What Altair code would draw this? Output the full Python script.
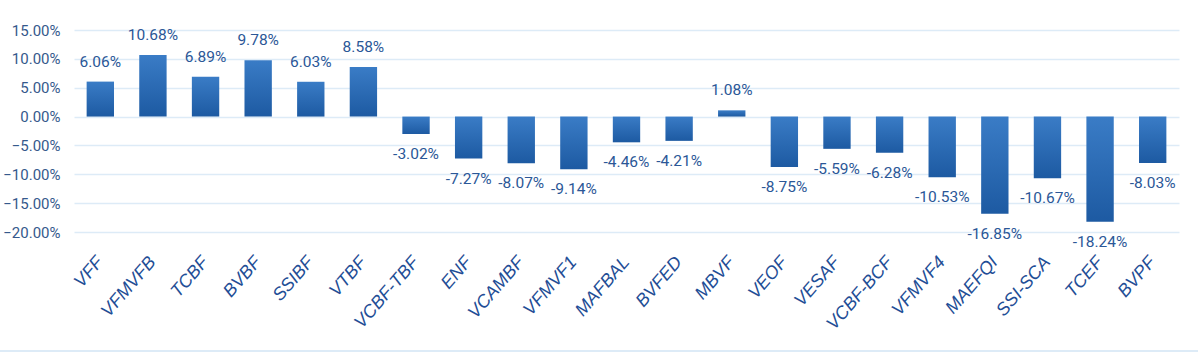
import altair as alt
import pandas as pd

funds = ["VFF", "VFMVFB", "TCBF", "BVBF", "SSIBF", "VTBF", "VCBF-TBF", "ENF", "VCAMBF",
         "VFMVF1", "MAFBAL", "BVFED", "MBVF", "VEOF", "VESAF", "VCBF-BCF", "VFMVF4",
         "MAEFQI", "SSI-SCA", "TCEF", "BVPF"]
returns = [6.06, 10.68, 6.89, 9.78, 6.03, 8.58, -3.02, -7.27, -8.07, -9.14, -4.46, -4.21,
           1.08, -8.75, -5.59, -6.28, -10.53, -16.85, -10.67, -18.24, -8.03]
y_ticks = [15, 10, 5, 0, -5, -10, -15, -20]

df = pd.DataFrame({"fund": funds, "ret": returns})
df["label"] = [f"{v:.2f}%" for v in returns]

W, H = 1105, 202

x = alt.X("fund:N", sort=funds, title=None,
          scale=alt.Scale(paddingInner=0.48, paddingOuter=0.24),
          axis=alt.Axis(labelAngle=-49, labelAlign="right", labelBaseline="middle",
                        labelFont="Liberation Sans", labelFontStyle="italic",
                        labelFontSize=18, labelColor="#1F4E96", labelPadding=27,
                        ticks=False, domain=False, grid=False, labelOverlap=False))
y = alt.Y("ret:Q", title=None,
          scale=alt.Scale(domain=[-20, 15], nice=False, zero=False),
          axis=alt.Axis(values=y_ticks, labelExpr="format(datum.value, '.2f') + '%'",
                        labelFont="Roboto", labelFontSize=15, labelColor="#35598C",
                        labelPadding=14, ticks=False, domain=False, labelOverlap=False,
                        gridColor="#DDEBF7", gridWidth=1.5))

grad = alt.Gradient(gradient="linear", x1=0, y1=0, x2=0, y2=1,
                    stops=[alt.GradientStop(color="#3A7CC6", offset=0),
                           alt.GradientStop(color="#1D5AA2", offset=1)])

bars = alt.Chart(df).mark_bar(color=grad).encode(x=x, y=y, y2=alt.datum(0))

pos = alt.Chart(df).transform_filter("datum.ret >= 0").mark_text(
    baseline="bottom", dy=-12, font="Roboto", fontSize=15.5, color="#2B5797"
).encode(x=x, y=y, text="label:N")

neg = alt.Chart(df).transform_filter("datum.ret < 0").mark_text(
    baseline="top", dy=13, font="Roboto", fontSize=15.5, color="#2B5797"
).encode(x=x, y=y, text="label:N")

frame = alt.Chart(df).mark_rule(color="#DDEBF7", strokeWidth=2).encode(
    x=alt.value(-74), x2=alt.value(1124), y=alt.value(321))

chart = alt.layer(bars, pos, neg, frame).properties(
    width=W, height=H,
    autosize=alt.AutoSizeParams(type="none"),
    padding={"left": 74, "top": 30, "right": 21, "bottom": 124},
    background="white",
).configure_view(stroke=None)

chart.save("out.html", embed_options={"renderer": "svg", "actions": False})
